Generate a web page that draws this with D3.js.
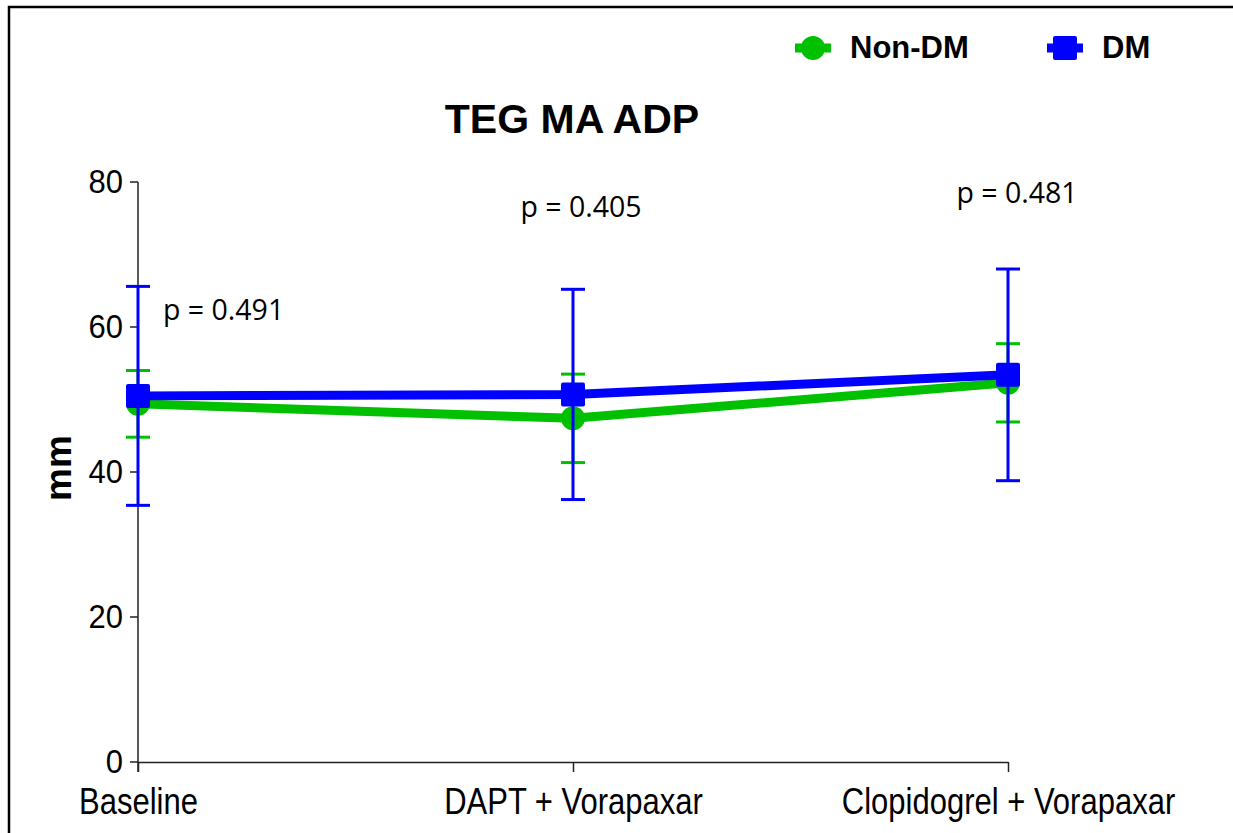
<!DOCTYPE html>
<meta charset="utf-8">
<style>
body { margin: 0; background: #fff; overflow: hidden; }
svg { display: block; }
.axis path, .axis line { stroke: #222; stroke-width: 1.5; }
.axis text { font-family: "Liberation Sans", Arial, sans-serif; fill: #000; }
.ptext { font-family: "Open Sans", "Noto Sans", sans-serif; font-size: 28.5px; fill: #000; }
</style>
<svg width="1233" height="833"></svg>
<script src="https://d3js.org/d3.v7.min.js"></script>
<script>

// data
var categories = ["Baseline", "DAPT + Vorapaxar", "Clopidogrel + Vorapaxar"];
var nonDmMean = [49.4, 47.4, 52.3];
var nonDmSd = [4.6, 6.1, 5.4];
var dmMean = [50.5, 50.7, 53.4];
var dmSd = [15.1, 14.5, 14.6];
var pValues = ["p = 0.491", "p = 0.405", "p = 0.481"];
var pLabelY = [61, 75.2, 77.1];   // value-scale height of each p label
var yTicks = [0, 20, 40, 60, 80];

var green = "#00c000", blue = "#0000ff";

var svg = d3.select("svg");

// frame (only top and left edges show in the picture)
svg.append("path")
  .attr("d", "M9,840 V7 H1245")
  .attr("fill", "none")
  .attr("stroke", "#000")
  .attr("stroke-width", 2.5);

var x = d3.scalePoint().domain(categories).range([138, 1008]);
var y = d3.scaleLinear().domain([0, 80]).range([762, 182]);

// y axis
var yAxis = svg.append("g").attr("class", "axis")
  .attr("transform", "translate(138,0)")
  .call(d3.axisLeft(y).tickValues(yTicks).tickSize(8).tickPadding(7).tickSizeOuter(0));
yAxis.selectAll("text")
  .style("font-size", "31px")
  .attr("dy", null)
  .attr("transform", function(d) { return "translate(0," + (y(d) + 11) + ") scale(1,1.1)"; })
  .attr("y", 0);
yAxis.selectAll(".tick").attr("transform", "translate(0,0)");
yAxis.selectAll(".tick line").attr("transform", function(d) { return "translate(0," + y(d) + ")"; });
yAxis.select(".domain").attr("d", "M0,182V772");

// x axis
var xAxis = svg.append("g").attr("class", "axis")
  .attr("transform", "translate(0,762)")
  .call(d3.axisBottom(x).tickSize(10).tickPadding(14).tickSizeOuter(0));
xAxis.selectAll("text")
  .style("font-size", "31px")
  .attr("dy", null)
  .attr("y", 0)
  .attr("transform", "translate(0,52) scale(1,1.2)");

// y label
svg.append("text")
  .attr("transform", "translate(71,468) rotate(-90)")
  .attr("text-anchor", "middle")
  .style("font-family", "'Liberation Sans', Arial, sans-serif")
  .style("font-weight", "bold")
  .style("font-size", "37px")
  .text("mm");

// title
svg.append("text")
  .attr("x", 572).attr("y", 133)
  .attr("text-anchor", "middle")
  .style("font-family", "'Liberation Sans', Arial, sans-serif")
  .style("font-weight", "bold")
  .style("font-size", "41px")
  .text("TEG MA ADP");

// p labels
var pShift = [0, 8, 9];
svg.selectAll(".ptext").data(pValues).enter().append("text")
  .attr("class", "ptext")
  .attr("x", function(d, i) { return i == 0 ? x(categories[i]) + 25 : x(categories[i]) + pShift[i]; })
  .attr("y", function(d, i) { return y(pLabelY[i]); })
  .attr("text-anchor", function(d, i) { return i == 0 ? "start" : "middle"; })
  .text(function(d) { return d; });

function drawSeries(means, sds, colour, shape) {
  var g = svg.append("g");
  var pts = categories.map(function(c, i) { return {c: c, m: means[i], s: sds[i]}; });

  // error bars
  pts.forEach(function(d) {
    var cx = x(d.c);
    g.append("line")
      .attr("x1", cx).attr("x2", cx)
      .attr("y1", y(d.m + d.s)).attr("y2", y(d.m - d.s))
      .attr("stroke", colour).attr("stroke-width", 3);
    [d.m + d.s, d.m - d.s].forEach(function(v) {
      g.append("line")
        .attr("x1", cx - 12).attr("x2", cx + 12)
        .attr("y1", y(v)).attr("y2", y(v))
        .attr("stroke", colour).attr("stroke-width", 3);
    });
  });

  var line = d3.line().x(function(d) { return x(d.c); }).y(function(d) { return y(d.m); });
  g.append("path").datum(pts)
    .attr("d", line)
    .attr("fill", "none")
    .attr("stroke", colour)
    .attr("stroke-width", 9);

  pts.forEach(function(d) {
    if (shape == "circle") {
      g.append("circle").attr("cx", x(d.c)).attr("cy", y(d.m)).attr("r", 12).attr("fill", colour);
    } else {
      g.append("rect").attr("x", x(d.c) - 12).attr("y", y(d.m) - 12)
        .attr("width", 24).attr("height", 24).attr("rx", 2).attr("fill", colour);
    }
  });
}

drawSeries(nonDmMean, nonDmSd, green, "circle");
drawSeries(dmMean, dmSd, blue, "square");

// legend
var legend = [
  {name: "Non-DM", colour: green, shape: "circle", x: 813},
  {name: "DM", colour: blue, shape: "square", x: 1065}
];
legend.forEach(function(l) {
  var g = svg.append("g").attr("transform", "translate(" + l.x + ",48)");
  g.append("line").attr("x1", -18).attr("x2", 18).attr("stroke", l.colour).attr("stroke-width", 9);
  if (l.shape == "circle") {
    g.append("circle").attr("r", 12).attr("fill", l.colour);
  } else {
    g.append("rect").attr("x", -12).attr("y", -12).attr("width", 24).attr("height", 24).attr("rx", 2).attr("fill", l.colour);
  }
  g.append("text")
    .attr("x", 37).attr("y", 10)
    .style("font-family", "'Liberation Sans', Arial, sans-serif")
    .style("font-weight", "bold")
    .style("font-size", "31px")
    .text(l.name);
});

</script>
